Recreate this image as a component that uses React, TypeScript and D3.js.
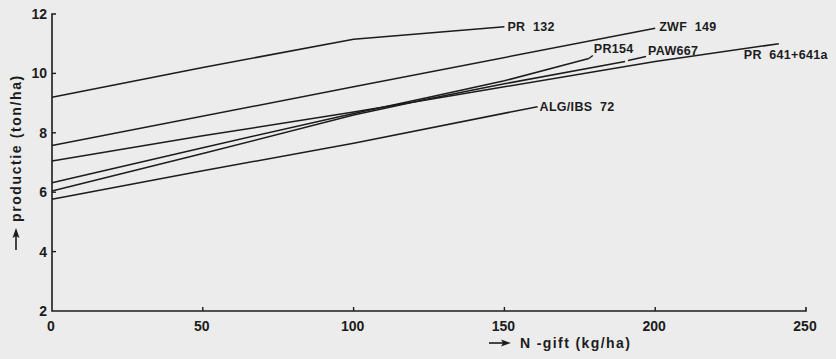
import React from "react";
import * as d3 from "d3";

// N-gift (kg/ha) vs productie (ton/ha) per ras
const rassen = ["PR 132", "ZWF 149", "PR154", "PAW667", "PR 641+641a", "ALG/IBS 72"];
const nGift132 = [0, 50, 100, 150];
const prod132 = [9.2, 10.2, 11.15, 11.57];
const nGiftZwf = [0, 100, 200];
const prodZwf = [7.57, 9.55, 11.52];
const nGift154 = [0, 50, 100, 125, 150, 178];
const prod154 = [6.32, 7.5, 8.65, 9.2, 9.75, 10.5];
const nGiftPaw = [0, 50, 100, 125, 150, 190];
const prodPaw = [6.04, 7.3, 8.6, 9.15, 9.65, 10.4];
const nGift641 = [0, 50, 100, 125, 150, 200, 241];
const prod641 = [7.05, 7.9, 8.7, 9.12, 9.55, 10.4, 11.0];
const nGiftAlg = [0, 50, 100, 161];
const prodAlg = [5.76, 6.72, 7.65, 8.88];

const xTicks = [0, 50, 100, 150, 200, 250];
const yTicks = [2, 4, 6, 8, 10, 12];

const series = [
  { x: nGift132, y: prod132 },
  { x: nGiftZwf, y: prodZwf },
  { x: nGift154, y: prod154 },
  { x: nGiftPaw, y: prodPaw },
  { x: nGift641, y: prod641 },
  { x: nGiftAlg, y: prodAlg },
];

// label placement relative to each line's end point (px)
const labelOffset = [
  { dx: 3, dy: 0, leader: null as null | number[] },
  { dx: 4, dy: -2, leader: null },
  { dx: 5, dy: -10, leader: [0, 0, 4, -3] },
  { dx: 23, dy: -11, leader: [3, -1, 21, -5] },
  { dx: -35, dy: 11, leader: null },
  { dx: 2, dy: 0, leader: null },
];

const W = 836;
const H = 359;
const INK = "#1c1c1c";

export default function App() {
  const x = d3.scaleLinear().domain([0, 250]).range([52, 806]);
  const y = d3.scaleLinear().domain([2, 12]).range([311, 14]);
  const line = d3
    .line<[number, number]>()
    .x((d) => x(d[0]))
    .y((d) => y(d[1]))
    .curve(d3.curveLinear);

  const font = "'Liberation Sans', Arial, sans-serif";

  return (
    <div style={{ position: "fixed", left: 0, top: 0, width: W, height: H }}>
      <svg width={W} height={H} style={{ display: "block", background: "#ececec" }}>
        {/* axes */}
        <path
          d={`M${x(0) + 4},${y(12)} H${x(0)} V${y(2)} H${x(250)} V${y(2) - 4}`}
          fill="none"
          stroke={INK}
          strokeWidth={1.6}
        />
        {yTicks.slice(1, -1).map((t) => (
          <line key={"yt" + t} x1={x(0)} x2={x(0) + 4} y1={y(t)} y2={y(t)} stroke={INK} strokeWidth={1.4} />
        ))}
        {xTicks.slice(1, -1).map((t) => (
          <line key={"xt" + t} x1={x(t)} x2={x(t)} y1={y(2)} y2={y(2) - 4} stroke={INK} strokeWidth={1.4} />
        ))}
        {yTicks.map((t) => (
          <text
            key={"yl" + t}
            x={x(0) - 5}
            y={y(t)}
            dy="0.36em"
            textAnchor="end"
            fontFamily={font}
            fontWeight="bold"
            fontSize={14}
            fill={INK}
          >
            {t}
          </text>
        ))}
        {xTicks.map((t) => (
          <text
            key={"xl" + t}
            x={x(t) - 1}
            y={y(2) + 15}
            dy="0.36em"
            textAnchor="middle"
            fontFamily={font}
            fontWeight="bold"
            fontSize={14}
            fill={INK}
          >
            {t}
          </text>
        ))}

        {/* axis titles */}
        <g transform="translate(489,343)">
          <line x1={0} x2={14} y1={0} y2={0} stroke={INK} strokeWidth={1.6} />
          <path d="M22,0 L12,-3.5 L14,0 L12,3.5 Z" fill={INK} />
          <text
            x={31}
            y={0}
            dy="0.36em"
            fontFamily={font}
            fontWeight="bold"
            fontSize={14}
            letterSpacing={1.4}
            fill={INK}
          >
            N -gift (kg/ha)
          </text>
        </g>
        <g transform="translate(16,250) rotate(-90)">
          <line x1={0} x2={14} y1={0} y2={0} stroke={INK} strokeWidth={1.6} />
          <path d="M22,0 L12,-3.5 L14,0 L12,3.5 Z" fill={INK} />
          <text
            x={28}
            y={0}
            dy="0.36em"
            fontFamily={font}
            fontWeight="bold"
            fontSize={14}
            letterSpacing={1.6}
            fill={INK}
          >
            productie (ton/ha)
          </text>
        </g>

        {/* response lines */}
        {series.map((s, i) => {
          const pts = s.x.map((v, j) => [v, s.y[j]] as [number, number]);
          const end = pts[pts.length - 1];
          const ex = x(end[0]);
          const ey = y(end[1]);
          const o = labelOffset[i];
          return (
            <g key={rassen[i]}>
              <path d={line(pts) ?? ""} fill="none" stroke={INK} strokeWidth={1.5} strokeLinejoin="round" />
              {o.leader && (
                <line
                  x1={ex + o.leader[0]}
                  y1={ey + o.leader[1]}
                  x2={ex + o.leader[2]}
                  y2={ey + o.leader[3]}
                  stroke={INK}
                  strokeWidth={1.4}
                />
              )}
              <text
                x={ex + o.dx}
                y={ey + o.dy}
                dy="0.36em"
                fontFamily={font}
                fontWeight="bold"
                fontSize={12.5}
                letterSpacing={0.3}
                fill={INK}
                style={{ whiteSpace: "pre" }}
              >
                {rassen[i].replace(" ", "  ")}
              </text>
            </g>
          );
        })}
      </svg>
    </div>
  );
}
